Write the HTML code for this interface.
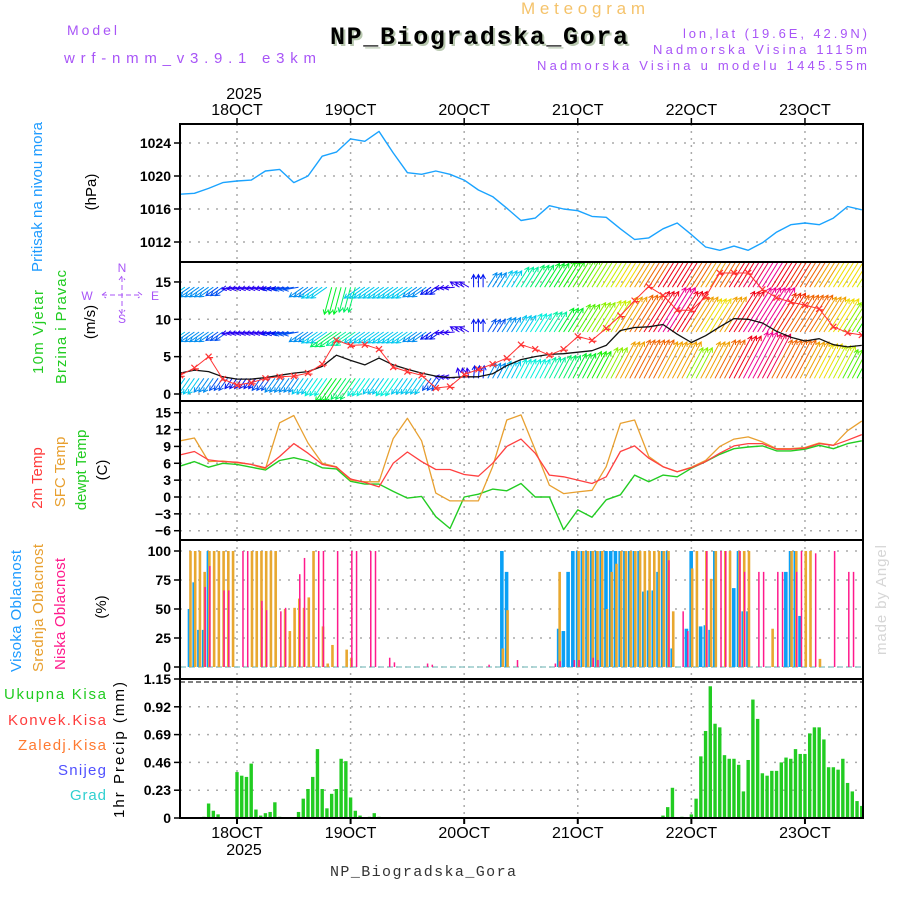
<!DOCTYPE html>
<html><head><meta charset="utf-8"><style>
html,body{margin:0;padding:0;background:#fff;}
svg{display:block;font-family:"Liberation Sans",sans-serif;}
.tk{font-size:14px;font-weight:bold;fill:#000;text-anchor:end;}
.mono{font-family:"Liberation Mono",monospace;}
</style></head><body>
<svg id="chart" width="900" height="900" viewBox="0 0 900 900" xmlns="http://www.w3.org/2000/svg">
<defs>
<clipPath id="clipW"><rect x="180" y="262" width="683" height="139"/></clipPath>
</defs>
<rect x="0" y="0" width="900" height="900" fill="#fff"/>
<!-- header -->
<text x="67" y="35" font-size="14" fill="#a855f7" textLength="50">Model</text>
<text x="64" y="63" font-size="15" fill="#a855f7" textLength="252">wrf-nmm_v3.9.1 e3km</text>
<text x="521" y="14" font-size="17" fill="#f5c36b" textLength="124">Meteogram</text>
<text x="332" y="46" class="mono" font-size="25" font-weight="bold" fill="#b9c9b0" textLength="298">NP_Biogradska_Gora</text>
<text x="330" y="44" class="mono" font-size="25" font-weight="bold" fill="#000" textLength="298">NP_Biogradska_Gora</text>
<text x="683" y="38" font-size="13" fill="#a855f7" textLength="184">lon,lat (19.6E, 42.9N)</text>
<text x="653" y="54" font-size="13" fill="#a855f7" textLength="214">Nadmorska Visina 1115m</text>
<text x="537" y="70" font-size="13" fill="#a855f7" textLength="330">Nadmorska Visina u modelu 1445.55m</text>
<text x="244" y="99" font-size="16" text-anchor="middle">2025</text>
<text x="244" y="855" font-size="16" text-anchor="middle">2025</text>
<text x="330" y="876" class="mono" font-size="15" fill="#333" textLength="186">NP_Biogradska_Gora</text>
<text transform="translate(886,600) rotate(-90)" font-size="15" fill="#d6d6d6" text-anchor="middle" textLength="110">made by Angel</text>

<!-- left panel labels -->
<text transform="translate(42,197) rotate(-90)" font-size="15" fill="#1e9bff" text-anchor="middle" textLength="150">Pritisak na nivou mora</text>
<text transform="translate(96,192) rotate(-90)" font-size="15" text-anchor="middle">(hPa)</text>
<text transform="translate(43,332) rotate(-90)" font-size="15" fill="#22cc22" text-anchor="middle" textLength="84">10m Vjetar</text>
<text transform="translate(66,327) rotate(-90)" font-size="15" fill="#22cc22" text-anchor="middle" textLength="114">Brzina i Pravac</text>
<text transform="translate(95,322) rotate(-90)" font-size="15" text-anchor="middle">(m/s)</text>
<g fill="#a855f7" font-size="12" stroke="none">
<text x="122" y="272" text-anchor="middle">N</text>
<text x="122" y="323" text-anchor="middle">S</text>
<text x="87" y="300" text-anchor="middle">W</text>
<text x="155" y="300" text-anchor="middle">E</text>
<path d="M102,295 H142 M122,277 V313 M106,292 L102,295 L106,298 M138,292 L142,295 L138,298 M119,280 L122,276 L125,280 M119,310 L122,314 L125,310" stroke="#a855f7" stroke-width="1" fill="none" stroke-dasharray="5,3"/>
</g>
<text transform="translate(42,478) rotate(-90)" font-size="15" fill="#ff3b3b" text-anchor="middle">2m Temp</text>
<text transform="translate(65,472) rotate(-90)" font-size="15" fill="#e8a030" text-anchor="middle">SFC Temp</text>
<text transform="translate(86,470) rotate(-90)" font-size="15" fill="#22cc22" text-anchor="middle">dewpt Temp</text>
<text transform="translate(107,470) rotate(-90)" font-size="15" text-anchor="middle">(C)</text>
<text transform="translate(21,611) rotate(-90)" font-size="15" fill="#1e9bff" text-anchor="middle" textLength="122">Visoka Oblacnost</text>
<text transform="translate(43,608) rotate(-90)" font-size="15" fill="#e8a030" text-anchor="middle" textLength="128">Srednja Oblacnost</text>
<text transform="translate(65,614) rotate(-90)" font-size="15" fill="#ff1a8c" text-anchor="middle" textLength="112">Niska Oblacnost</text>
<text transform="translate(106,607) rotate(-90)" font-size="15" text-anchor="middle">(%)</text>
<text transform="translate(124,750) rotate(-90)" font-size="15" text-anchor="middle" textLength="136">1hr Precip (mm)</text>
<g font-size="15" text-anchor="end">
<text x="106" y="699" fill="#22cc22" textLength="102">Ukupna Kisa</text>
<text x="106" y="725" fill="#ff3b3b" textLength="98">Konvek.Kisa</text>
<text x="106" y="750" fill="#ff7a30" textLength="88">Zaledj.Kisa</text>
<text x="106" y="775" fill="#5050ff" textLength="48">Snijeg</text>
<text x="106" y="800" fill="#30d0d0" textLength="36">Grad</text>
</g>
<g id="plots"></g>
</svg>
<script>
// ---- data (hours relative to 18 OCT 00 UTC) ----
const dayLabels = ["18OCT","19OCT","20OCT","21OCT","22OCT","23OCT"];
const lineHours = [-12,-9,-6,-3,0,3,6,9,12,15,18,21,24,27,30,33,36,39,42,45,48,51,54,57,60,63,66,69,72,75,78,81,84,87,90,93,96,99,102,105,108,111,114,117,120,123,126,129,132];
const pressure = [1017.8,1017.9,1018.5,1019.2,1019.4,1019.5,1020.6,1020.8,1019.2,1020.0,1022.4,1022.9,1024.5,1024.2,1025.4,1022.8,1020.4,1020.2,1020.6,1020.2,1019.5,1018.3,1017.5,1016.1,1014.6,1014.9,1016.4,1016.0,1015.8,1015.1,1015.0,1013.6,1012.3,1012.5,1013.6,1014.3,1012.9,1011.4,1011.0,1011.5,1011.0,1011.9,1013.2,1014.1,1014.3,1014.1,1014.9,1016.3,1015.9];
const pressTicks = [1012,1016,1020,1024];
const windSpeed = [2.8,3.2,3.0,2.3,2.0,2.0,2.2,2.5,2.8,3.0,3.7,5.2,4.5,3.9,4.8,3.9,3.3,2.8,2.4,2.2,2.3,2.3,2.7,3.8,4.6,5.0,5.3,5.4,5.6,5.8,6.5,8.5,8.9,9.0,9.3,8.0,6.9,7.8,9.0,10.1,10.0,9.5,8.4,7.6,7.1,7.4,6.6,6.3,6.5];
const windGust = [2.5,3.5,5.0,2.0,1.2,1.5,2.1,2.3,2.4,2.8,4.0,7.2,6.5,6.6,6.0,3.6,3.0,2.5,0.8,1.0,2.6,3.3,4.0,4.8,6.6,6.0,5.2,6.0,7.7,7.2,8.8,10.5,12.5,14.4,13.2,11.2,11.2,13.0,16.2,16.2,16.2,14.0,12.9,12.3,11.9,11.4,9.0,8.2,7.9];
const windTicks = [0,5,10,15];
const lowSpd = [6,6,5,4,3,3,4,5,5,6,7,10,9,7,6,7,6,6,4,2,2,3,5,6,7,7,8,9,10,11,13,16,17,17,16,16,13,16,17,19,21,20,17,17,16,15,14,12,11];
const midSpd = [6,5,5,4,2,2,2,3,4,5,6,9,8,6,6,6,6,5,3,2,2,3,4,5,6,7,8,10,12,13,14,16,17,19,21,19,16,15,16,19,21,21,18,17,17,16,15,13,11];
const topSpd = [6,5,5,4,2,2,2,3,4,5,6,10,9,6,6,6,6,5,3,2,2,3,5,6,8,9,10,11,12,13,14,15,16,17,19,19,17,16,17,19,20,21,19,18,17,16,15,15,14];
const lowDir = [235,235,235,235,235,235,235,235,235,235,235,235,235,235,235,235,235,235,235,170,100,85,62,62,62,62,62,62,62,62,62,62,62,62,62,62,62,62,62,62,62,62,62,62,62,62,62,62,62];
const midDir = [215,215,215,215,190,190,190,190,190,215,215,215,215,215,215,215,215,215,215,185,150,90,58,58,58,58,58,58,58,58,58,58,58,58,58,58,58,58,58,58,58,58,58,58,58,58,58,58,58];
const topDir = [215,215,215,215,190,190,190,190,190,215,215,255,255,215,215,215,215,215,215,185,150,90,58,58,58,58,58,58,58,58,58,58,58,58,58,58,58,58,58,58,58,58,58,58,58,58,58,58,58];
const temp2m = [7.5,8.1,6.6,6.3,6.2,5.8,5.2,7.2,9.5,7.8,5.8,5.3,3.2,2.6,1.8,6.0,8.0,6.3,4.9,4.9,4.0,3.7,6.0,9.0,10.3,7.8,3.9,3.6,3.0,2.4,3.6,8.1,9.1,6.9,5.4,4.5,5.2,6.3,7.8,9.1,9.5,9.5,8.5,8.5,8.7,9.5,9.2,10.1,11.1];
const tempSfc = [10.0,10.5,6.3,6.4,6.1,5.8,5.0,13.2,14.5,9.6,6.0,5.4,3.0,2.7,2.7,10.4,14.0,10.0,0.7,-0.7,-0.7,-0.7,5.4,13.7,14.6,8.4,2.1,0.6,0.9,1.2,5.4,13.1,13.7,7.2,5.4,4.5,5.3,6.5,9.0,10.3,10.7,9.8,8.6,8.6,8.8,9.6,9.2,11.8,13.5];
const dewpt = [5.5,6.3,5.3,6.0,5.8,5.3,4.8,6.5,7.0,6.4,5.2,5.0,2.8,2.3,2.3,1.0,-0.2,0.1,-3.5,-5.6,0.0,0.5,1.4,1.1,2.4,0.0,0.0,-5.8,-2.3,-3.6,-0.5,0.4,3.9,2.7,3.9,3.6,5.1,6.3,7.6,8.6,8.9,9.1,8.2,8.2,8.5,9.2,8.6,9.5,10.0];
const tempTicks = [-6,-3,0,3,6,9,12,15];
const hiHours = [-10,-9,-8,-7,-6,56,57,68,69,70,71,72,73,74,75,76,77,78,79,80,81,82,83,84,85,86,87,88,89,90,91,92,95,96,98,99,100,101,105,106,107,108,116,117,118,119];
const hiVals = [50,73,32,32,100,100,82,33,31,82,100,100,100,100,100,100,100,100,100,100,100,100,100,100,100,65,66,66,82,100,100,16,33,100,35,36,32,100,68,100,48,48,82,100,100,44];
const midHours = [-10,-9,-8,-7,-6,-5,-4,-3,-2,-1,3,4,5,6,7,8,10,11,12,13,14,15,16,18,19,20,23,24,56,57,68,72,73,74,75,76,77,78,79,80,81,82,83,84,85,86,87,88,89,90,91,92,96,97,99,100,101,103,104,106,107,108,113,117,118,120,121,123];
const midVals = [100,100,100,82,100,100,100,100,100,100,100,100,100,100,100,100,50,31,51,59,51,60,100,35,3,19,15,8,16,49,82,100,100,100,100,100,100,50,82,89,100,100,100,100,100,100,100,100,100,100,100,48,85,100,100,76,100,100,100,100,100,100,33,100,100,100,100,7];
const lowHours = [-7,-6,-3,-2,1,2,5,6,9,10,13,14,17,18,21,24,25,28,29,32,33,40,41,53,59,67,68,71,72,75,76,91,94,95,99,102,103,106,107,110,111,114,115,118,119,122,126,129,130];
const lowVals = [69,87,66,66,100,100,57,49,48,51,80,94,100,100,100,100,100,100,100,8,4,3,2,2,6,3,5,6,6,8,6,92,48,31,100,100,100,100,82,82,82,82,82,82,100,98,100,82,82];
const cloudTicks = [0,25,50,75,100];
const rainHours = [-7,-6,-5,-4,0,1,2,3,4,5,6,7,8,9,13,14,15,16,17,18,19,20,21,22,23,24,25,26,28,29,30,90,91,92,94,96,97,98,99,100,101,102,103,104,105,106,107,108,109,110,111,112,113,114,115,116,117,118,119,120,121,122,123,124,125,126,127,128,129,130,131,132];
const rainVals = [0.01,0.12,0.06,0.03,0.38,0.35,0.34,0.45,0.07,0.02,0.04,0.05,0.13,0.01,0.05,0.16,0.24,0.34,0.57,0.24,0.08,0.20,0.24,0.49,0.47,0.17,0.06,0.02,0.01,0.04,0.01,0.02,0.09,0.25,0.01,0.03,0.16,0.51,0.72,1.09,0.78,0.75,0.52,0.49,0.49,0.44,0.22,0.48,0.98,0.82,0.37,0.35,0.39,0.39,0.46,0.50,0.49,0.57,0.53,0.53,0.70,0.75,0.75,0.65,0.42,0.42,0.40,0.49,0.29,0.22,0.14,0.10];
const rainTicks = ["0","0.23","0.46","0.69","0.92","1.15"];

// ---- axes ----
const L = 180, R = 863;
const X = h => 237 + h * 4.733;
const yP = v => 143 + (1024 - v) * 8.25;
const yW = v => 394 - v * 7.47;
const yT = v => 497 - v * 5.62;
const yC = v => 667 - v * 1.16;
const yR = v => 818 - v * 120.87;
const NS = "http://www.w3.org/2000/svg";
const plots = document.getElementById('plots');
function mk(tag, attrs, parent) {
  const e = document.createElementNS(NS, tag);
  for (const k in attrs) e.setAttribute(k, attrs[k]);
  (parent || plots).appendChild(e);
  return e;
}
function grp(name, parent) {
  const g = mk('g', {}, parent);
  
  
  return g;
}
const panels = [[124,262],[262,401],[401,540],[540,679],[679,818]];
const gridG = grp('grid-lines');
panels.forEach(p => {
  dayLabels.forEach((d, i) => {
    const x = X(i * 24);
    mk('line', {x1:x, x2:x, y1:p[0], y2:p[1], stroke:'#aaa', 'stroke-width':1.5, 'stroke-dasharray':'2,5'}, gridG);
  });
});
function hgrid(vals, fy, name, fmt) {
  const g = grp(name);
  vals.forEach(v => {
    const y = fy(+v);
    mk('line', {x1:L, x2:R, y1:y, y2:y, stroke:'#aaa', 'stroke-width':1.5, 'stroke-dasharray':'2,7'}, gridG);
    mk('line', {x1:L-6, x2:L, y1:y, y2:y, stroke:'#000', 'stroke-width':1.5}, g);
    const t = mk('text', {x:L-9, y:y+5, class:'tk'}, g);
    
    
    t.textContent = fmt ? fmt(v) : v;
  });
}
hgrid(pressTicks, yP, 'pressure-y-axis');
hgrid(windTicks, yW, 'wind-y-axis');
hgrid(tempTicks, yT, 'temp-y-axis', v => v < 0 ? '\u2212' + Math.abs(v) : v);
hgrid(cloudTicks, yC, 'cloud-y-axis');
hgrid(rainTicks, yR, 'precip-y-axis');
const xg = grp('x-axis-labels');
dayLabels.forEach((d, i) => {
  const x = X(i * 24);
  [[115, 'top'], [838, 'bottom']].forEach(([y, pos]) => {
    const t = mk('text', {x:x, y:y, 'font-size':16, 'text-anchor':'middle'}, xg);
    
    
    t.textContent = d;
  });
  mk('line', {x1:x, x2:x, y1:118, y2:124, stroke:'#000', 'stroke-width':1.5}, xg);
  mk('line', {x1:x, x2:x, y1:818, y2:824, stroke:'#000', 'stroke-width':2}, xg);
});

function polyline(hours, vals, fy, color, name, width, parent) {
  const pts = hours.map((h, i) => X(h).toFixed(1) + ',' + fy(vals[i]).toFixed(1)).join(' ');
  const p = mk('polyline', {points:pts, fill:'none', stroke:color, 'stroke-width':width || 1.3, 'stroke-linejoin':'round'}, parent);
  
  
  return p;
}
polyline(lineHours, pressure, yP, '#1aa3ff', 'pressure-line', 1.4);

const windG = grp('wind-arrows');
windG.setAttribute('clip-path', 'url(#clipW)');
function arrowRow(spd, dir, base, name) {
  const g = grp(name, windG);
  for (let h = -12; h <= 132; h++) {
    const i = Math.min(spd.length - 1, Math.round((h + 12) / 3));
    const s = spd[i], a = dir[i] * Math.PI / 180;
    const len = 6 + 2.2 * s;
    const x0 = X(h), y0 = yW(base);
    const x1 = x0 + len * Math.cos(a), y1 = y0 - len * Math.sin(a);
    const hue = ((280 - 15 * s) % 360 + 360) % 360;
    const col = 'hsl(' + hue + ',100%,47%)';
    const b1 = a + Math.PI - 0.5, b2 = a + Math.PI + 0.5;
    const d = 'M' + x0.toFixed(1) + ',' + y0.toFixed(1) + 'L' + x1.toFixed(1) + ',' + y1.toFixed(1) +
      'M' + (x1 + 5 * Math.cos(b1)).toFixed(1) + ',' + (y1 - 5 * Math.sin(b1)).toFixed(1) + 'L' + x1.toFixed(1) + ',' + y1.toFixed(1) +
      'L' + (x1 + 5 * Math.cos(b2)).toFixed(1) + ',' + (y1 - 5 * Math.sin(b2)).toFixed(1);
    const p = mk('path', {d:d, stroke:col, 'stroke-width':1, fill:'none'}, g);
    
    
  }
}
arrowRow(topSpd, topDir, 14.3, 'wind-arrows-upper');
arrowRow(midSpd, midDir, 8.3, 'wind-arrows-middle');
arrowRow(lowSpd, lowDir, 2.1, 'wind-arrows-lower');
polyline(lineHours, windSpeed, yW, '#111', 'wind-speed-line', 1.3, windG);
polyline(lineHours, windGust, yW, '#ff3333', 'wind-gust-line', 1, windG);
const gm = grp('gust-markers', windG);
lineHours.forEach((h, i) => {
  const x = X(h), y = yW(windGust[i]);
  const m = mk('path', {d:`M${x-3},${y-3}L${x+3},${y+3}M${x-3},${y+3}L${x+3},${y-3}M${x+4.5},${y+1}h-5`, stroke:'#ff3333', 'stroke-width':1.2, fill:'none'}, gm);
  
  
});

polyline(lineHours, dewpt, yT, '#22cc22', 'dewpoint-line', 1.4);
polyline(lineHours, tempSfc, yT, '#e8a030', 'sfc-temp-line', 1.3);
polyline(lineHours, temp2m, yT, '#ff4040', '2m-temp-line', 1.3);

const cg = grp('cloud-bars');
mk('line', {x1:L, x2:R, y1:yC(0), y2:yC(0), stroke:'#9cc', 'stroke-width':1.5, 'stroke-dasharray':'6,3'}, cg);
function cloudBars(hours, vals, off, w, col, name) {
  hours.forEach((h, i) => {
    const y = yC(vals[i]);
    const r = mk('rect', {x:X(h) + off, y:y, width:w, height:yC(0) - y, fill:col}, cg);
    
    
  });
}
cloudBars(hiHours, hiVals, -2, 3.6, '#0aa0f5', 'high-cloud-bar');
cloudBars(midHours, midVals, -0.5, 2.6, '#e8a830', 'mid-cloud-bar');
cloudBars(lowHours, lowVals, 0.5, 1.5, '#ff1a8c', 'low-cloud-bar');

const pg = grp('precip-bars');
rainHours.forEach((h, i) => {
  const y = yR(rainVals[i]);
  const r = mk('rect', {x:X(h) - 1.7, y:y, width:3.4, height:yR(0) - y, fill:'#22cc22'}, pg);
  
  
});
mk('line', {x1:L, x2:R, y1:yR(0), y2:yR(0), stroke:'#000', 'stroke-width':1.5, 'stroke-dasharray':'5,3'}, pg);
mk('line', {x1:L, x2:R, y1:682, y2:682, stroke:'#000', 'stroke-width':1, 'stroke-dasharray':'5,3'}, pg);

const fg = grp('panel-frames');
panels.forEach(p => {
  const r = mk('rect', {x:L, y:p[0], width:R - L, height:p[1] - p[0], fill:'none', stroke:'#000', 'stroke-width':2}, fg);
  
  
});
</script>
</body></html>
